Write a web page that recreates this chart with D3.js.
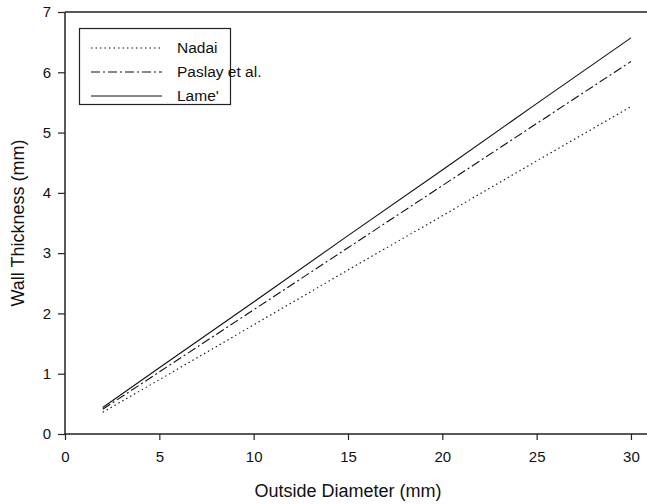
<!DOCTYPE html>
<html lang="en">
<head>
    <meta charset="UTF-8">
    <title>Wall Thickness vs Outside Diameter</title>
    <script src="https://d3js.org/d3.v7.min.js"></script>
    <style>
        body { margin: 0; background: #fff; }
        text {
            font-family: Arial, "Liberation Sans", sans-serif;
            fill: #111;
        }
        .tick text { font-size: 15px; }
        .axis-title { font-size: 18px; }
        .legend text { font-size: 15.5px; }
    </style>
</head>
<body>
<svg width="647" height="504"></svg>

<script>
    // values
    const diameters = [2, 5, 10, 15, 20, 25, 30];
    const nadai  = [0.36, 0.90, 1.81, 2.72, 3.62, 4.53, 5.43];
    const paslay = [0.41, 1.03, 2.06, 3.09, 4.12, 5.15, 6.18];
    const lame   = [0.44, 1.10, 2.19, 3.29, 4.38, 5.48, 6.57];

    const seriesNames = ["Nadai", "Paslay et al.", "Lame'"];
    const seriesValues = [nadai, paslay, lame];
    const dashes = ["1.5,3", "9,3,2,3", null];

    const xTicks = [0, 5, 10, 15, 20, 25, 30];
    const yTicks = [0, 1, 2, 3, 4, 5, 6, 7];

    const svg = d3.select("svg");

    const x = d3.scaleLinear().domain([0, 30.85]).range([65, 647]);
    const y = d3.scaleLinear().domain([0, 7]).range([434, 12]);

    // top frame line
    svg.append("line")
        .attr("x1", x(0)).attr("x2", 647)
        .attr("y1", y(7)).attr("y2", y(7))
        .attr("stroke", "#222").attr("stroke-width", 1.5);

    // axes
    const xAxis = svg.append("g")
        .attr("transform", `translate(0,${y(0)})`)
        .call(d3.axisBottom(x).tickValues(xTicks).tickFormat(d3.format("d"))
            .tickSize(6).tickPadding(11));
    xAxis.select(".domain").attr("stroke", "#222").attr("stroke-width", 1.5)
        .attr("d", `M${x(0)},0H647`);

    const yAxis = svg.append("g")
        .attr("transform", `translate(${x(0)},0)`)
        .call(d3.axisLeft(y).tickValues(yTicks).tickFormat(d3.format("d"))
            .tickSize(7).tickPadding(7));
    yAxis.select(".domain").attr("stroke", "#222").attr("stroke-width", 1.5)
        .attr("d", `M0,${y(0)}V${y(7)}`);

    svg.selectAll(".tick line").attr("stroke", "#222").attr("stroke-width", 1.2);
    svg.selectAll(".tick text").attr("fill", "#111");

    // axis titles
    svg.append("text")
        .attr("class", "axis-title")
        .attr("x", 348).attr("y", 497)
        .attr("text-anchor", "middle")
        .text("Outside Diameter (mm)");

    svg.append("text")
        .attr("class", "axis-title")
        .attr("transform", `translate(24,223) rotate(-90)`)
        .attr("text-anchor", "middle")
        .text("Wall Thickness (mm)");

    // lines
    const line = d3.line()
        .x((d, i) => x(diameters[i]))
        .y(d => y(d));

    seriesValues.forEach((vals, k) => {
        svg.append("path")
            .datum(vals)
            .attr("fill", "none")
            .attr("stroke", "#111")
            .attr("stroke-width", 1.1)
            .attr("stroke-dasharray", dashes[k])
            .attr("d", line);
    });

    // legend
    const legend = svg.append("g").attr("class", "legend");
    legend.append("rect")
        .attr("x", 79.5).attr("y", 28.5)
        .attr("width", 151).attr("height", 76)
        .attr("fill", "#fff")
        .attr("stroke", "#222").attr("stroke-width", 1.2);

    seriesNames.forEach((name, k) => {
        const ly = 48 + k * 24;
        legend.append("line")
            .attr("x1", 91).attr("x2", 162)
            .attr("y1", ly).attr("y2", ly)
            .attr("stroke", "#111").attr("stroke-width", 1.1)
            .attr("stroke-dasharray", dashes[k]);
        legend.append("text")
            .attr("x", 177).attr("y", ly + 5)
            .text(name);
    });
</script>
</body>
</html>
